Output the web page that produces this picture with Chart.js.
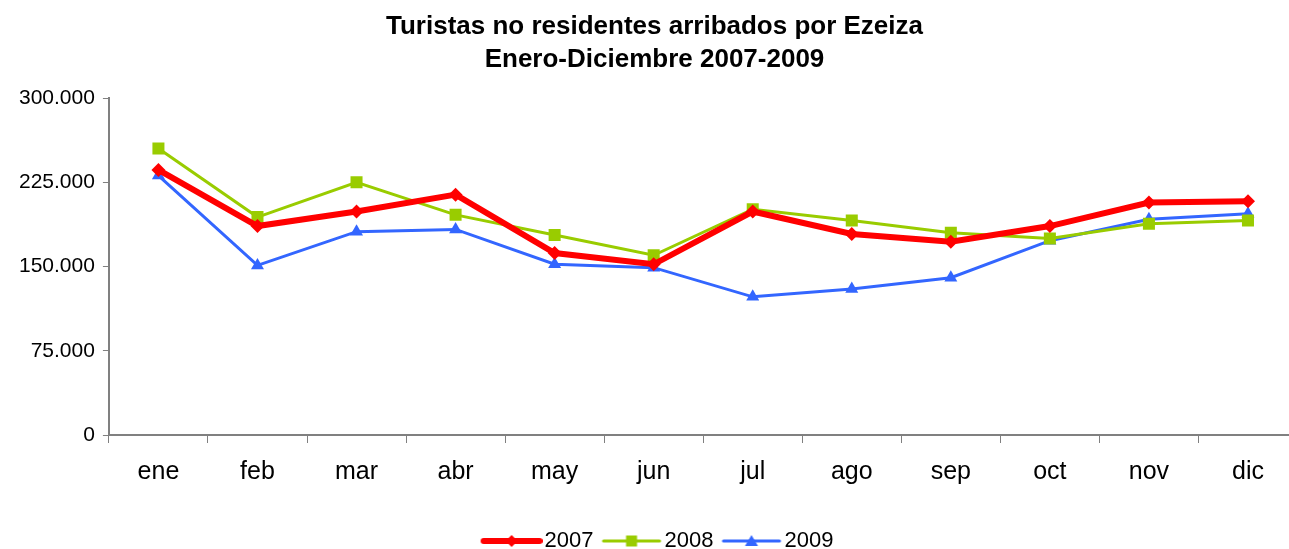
<!DOCTYPE html>
<html>
<head>
<meta charset="utf-8">
<script src="https://cdn.jsdelivr.net/npm/chart.js@4/dist/chart.umd.min.js"></script>
<style>
    html, body { margin: 0; padding: 0; background: #fff; overflow: hidden; }
    /* a bit wider than the window: the x axis runs off the right edge like in the original */
    #wrap { width: 1306px; height: 549px; }
</style>
</head>
<body>
<div id="wrap"><canvas id="turistas-chart"></canvas></div>
<script>
// --- Data ---
const months = ['ene', 'feb', 'mar', 'abr', 'may', 'jun', 'jul', 'ago', 'sep', 'oct', 'nov', 'dic'];
const series2007 = [236000, 186000, 199000, 214000, 162000, 152000, 199000, 179000, 172000, 186000, 207000, 208000];
const series2008 = [255000, 194000, 225000, 196000, 178000, 160000, 201000, 191000, 180000, 175000, 188000, 191000];
const series2009 = [231000, 151000, 181000, 183000, 152000, 149000, 123000, 130000, 140000, 173000, 192000, 197000];
const yTicks = [0, 75000, 150000, 225000, 300000];
const titleLines = ['Turistas no residentes arribados por Ezeiza', 'Enero-Diciembre 2007-2009'];

const fontFamily = '"Liberation Sans", Arial, sans-serif';

// miles con punto: 300.000
const fmt = v => String(v).replace(/\B(?=(\d{3})+(?!\d))/g, '.');

// legend swatch: line plus marker (canvas centred on the legend box, line runs up to the text)
function legendSwatch(color, lineWidth, style) {
    const c = document.createElement('canvas');
    c.width = 76; c.height = 18;
    const g = c.getContext('2d');
    const mx = 45;
    g.strokeStyle = color;
    g.fillStyle = color;
    g.lineWidth = lineWidth;
    g.lineCap = 'round';
    g.beginPath();
    g.moveTo(17, 9); g.lineTo(73, 9);
    g.stroke();
    g.beginPath();
    if (style === 'diamond') {
        g.moveTo(mx, 3); g.lineTo(mx + 6, 9); g.lineTo(mx, 15); g.lineTo(mx - 6, 9);
    } else if (style === 'square') {
        g.rect(mx - 5.5, 3.5, 11, 11);
    } else {
        g.moveTo(mx, 3); g.lineTo(mx + 6.5, 14); g.lineTo(mx - 6.5, 14);
    }
    g.closePath();
    g.fill();
    return c;
}

const datasets = [
    { label: '2007', data: series2007, color: '#FF0000', width: 6, pointStyle: 'rectRot', radius: 7,
      swatch: legendSwatch('#FF0000', 6, 'diamond') },
    { label: '2008', data: series2008, color: '#99CC00', width: 3, pointStyle: 'rect', radius: 8.5,
      swatch: legendSwatch('#99CC00', 3, 'square') },
    { label: '2009', data: series2009, color: '#3366FF', width: 3, pointStyle: 'triangle', radius: 7.5,
      swatch: legendSwatch('#3366FF', 3, 'triangle') }
];

new Chart(document.getElementById('turistas-chart'), {
    type: 'line',
    data: {
        labels: months,
        datasets: datasets.map(d => ({
            label: d.label,
            data: d.data,
            borderColor: d.color,
            backgroundColor: d.color,
            borderWidth: d.width,
            pointStyle: d.pointStyle,
            pointRadius: d.radius,
            pointHoverRadius: d.radius,
            pointBorderWidth: 0,
            tension: 0,
            fill: false
        }))
    },
    options: {
        responsive: true,
        maintainAspectRatio: false,
        animation: false,
        layout: { padding: { left: 11, right: 8, top: 10, bottom: -13 } },
        scales: {
            x: {
                offset: true,
                grid: { display: true, drawOnChartArea: false, drawTicks: true, tickLength: 8,
                        offset: true, color: '#808080' },
                border: { color: '#808080', width: 2 },
                ticks: { color: '#000', padding: 14, font: { family: fontFamily, size: 25 } },
                afterFit: axis => { axis.height = 93; }
            },
            y: {
                min: 0,
                max: 300000,
                afterBuildTicks: axis => { axis.ticks = yTicks.map(v => ({ value: v })); },
                grid: { display: true, drawOnChartArea: false, drawTicks: true, tickLength: 6, color: '#808080' },
                border: { color: '#808080', width: 2 },
                ticks: { color: '#000', padding: 8, font: { family: fontFamily, size: 21 },
                         callback: v => fmt(v) }
            }
        },
        plugins: {
            title: {
                display: true,
                text: titleLines,
                color: '#000',
                font: { family: fontFamily, size: 26, weight: 'bold', lineHeight: 1.27 },
                padding: { top: 0, bottom: 22 }
            },
            legend: {
                position: 'bottom',
                labels: {
                    color: '#000',
                    font: { family: fontFamily, size: 22 },
                    usePointStyle: true,
                    pointStyleWidth: 58,
                    padding: 2,
                    generateLabels: chart => datasets.map((d, i) => ({
                        text: d.label,
                        pointStyle: d.swatch,
                        datasetIndex: i,
                        fontColor: '#000',
                        hidden: false,
                        lineWidth: 0,
                        strokeStyle: 'transparent',
                        fillStyle: d.color
                    }))
                }
            },
            tooltip: { enabled: false }
        }
    }
});
</script>
</body>
</html>
